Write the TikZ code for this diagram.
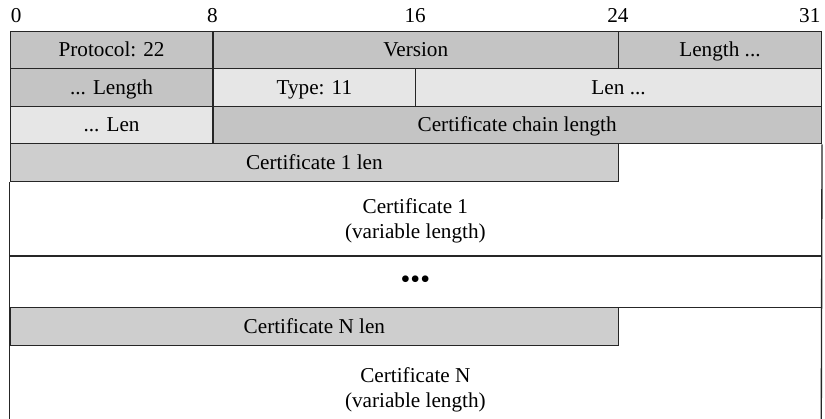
\documentclass[tikz,border=0pt]{standalone}
\usepackage{fontspec}
\setmainfont{Liberation Serif}
\usepackage{tikz}
\usetikzlibrary{positioning}
\definecolor{grisoscuro}{HTML}{C4C4C4}
\definecolor{grismedio}{HTML}{CECECE}
\definecolor{grisclaro}{HTML}{E6E6E6}
\tikzset{
  every picture/.style={font=\fontsize{15.9}{18.8}\selectfont},
  campo/.style={draw=black!85, line width=1pt, inner sep=0pt, anchor=north west,
                minimum height=28.125pt, text height=10.5pt, text depth=0pt, align=center},
  oscuro/.style={campo, fill=grisoscuro, minimum width=#1*19.0125pt},
  medio/.style={campo, fill=grismedio, minimum width=#1*19.0125pt},
  claro/.style={campo, fill=grisclaro, minimum width=#1*19.0125pt},
  cuerpo/.style={inner sep=0pt, anchor=north west, minimum width=608.4pt, text depth=0pt, align=center},
  borde/.style={draw=black!85, line width=1pt},
  bits/.style={inner sep=0pt, text height=10.5pt, text depth=0pt},
}

\begin{document}
\begin{tikzpicture}[x=0.75pt, y=-0.75pt]
  \useasboundingbox (0,0) rectangle (825,418);
  \clip (0,0) rectangle (825,418);
  \node[bits, anchor=west] (b0) at (10.5,15.5) {0};
  \node[bits] (b8) at (212.3,15.5) {8};
  \node[bits] (b16) at (415.1,15.5) {16};
  \node[bits] (b24) at (617.9,15.5) {24};
  \node[bits, anchor=east] (b31) at (820.7,15.5) {31};
  \node[oscuro=8] (prot) at (9.5,30.5) {Protocol: 22};
  \node[oscuro=16] (ver) at (212.3,30.5) {Version};
  \node[oscuro=8] (lon) at (617.9,30.5) {Length ...};
  \node[oscuro=8] (lon2) at (9.5,68) {... Length};
  \node[claro=8] (tipo) at (212.3,68) {Type: 11};
  \node[claro=16] (len) at (415.1,68) {Len ...};
  \node[claro=8] (len2) at (9.5,105.5) {... Len};
  \node[oscuro=24] (cadena) at (212.3,105.5) {Certificate chain length};
  \node[medio=24] (lc1) at (9.5,143) {Certificate 1 len};
  \node[cuerpo, minimum height=56.25pt] (c1) at (9.5,180.5) {Certificate 1\\(variable length)};
  \node[cuerpo, minimum height=38.25pt, font=\fontsize{21}{21}\selectfont] (pts) at (9.5,256) {•••};
  \node[medio=24] (lcn) at (9.5,307) {Certificate N len};
  \node[cuerpo, minimum height=64.5pt] (cn) at (9.5,344.5) {Certificate N\\(variable length)};
  \draw[borde] (cadena.south east) -- (cn.south east);
  \draw[borde] (lc1.south west) -- (cn.south west);
  \draw[borde] (c1.south west) -- (c1.south east);
  \draw[borde] (pts.south west) -- (pts.south east);
\end{tikzpicture}
\end{document}
